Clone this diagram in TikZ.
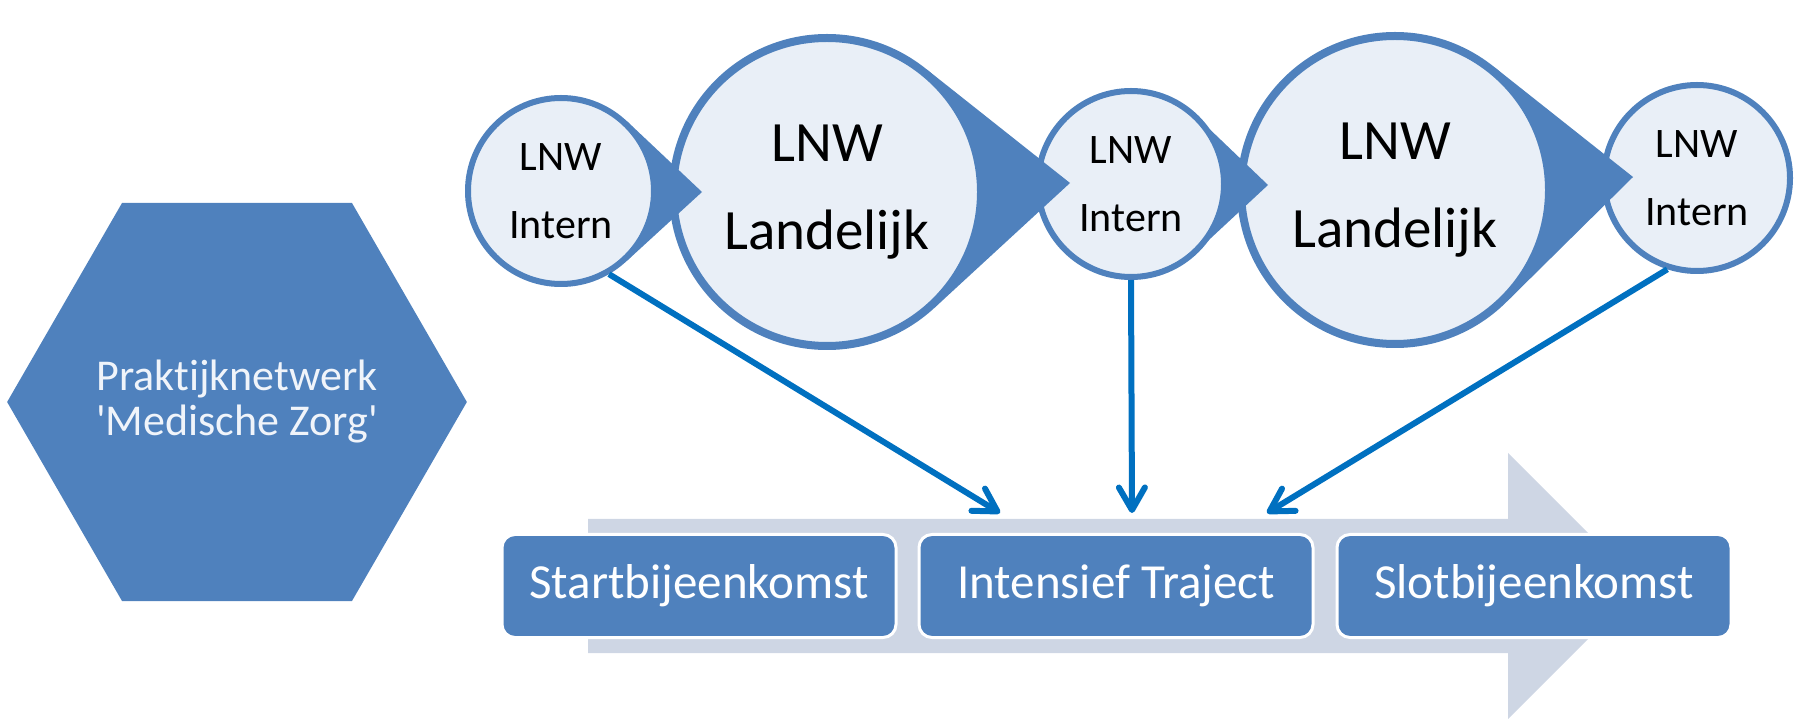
\documentclass[tikz,border=0pt]{standalone}
\usepackage{fontspec}
\setmainfont{Carlito}[Ligatures={NoCommon}]
\usetikzlibrary{arrows.meta,shapes.geometric,calc}
\definecolor{lnwblue}{RGB}{79,129,189}
\definecolor{lnwlight}{RGB}{233,239,247}
\definecolor{lnwline}{RGB}{0,112,192}
\definecolor{lnwgrey}{RGB}{206,214,228}
\definecolor{lnwtext}{RGB}{240,244,250}
\tikzset{%
  tipA/.tip={Straight Barb[angle=60:26pt,round]},
  intern/.style={circle,draw=lnwblue,line width=6pt,fill=lnwlight,minimum size=186pt,
    inner sep=0pt,align=center,font=\fontsize{42}{68}\selectfont},
  landelijk/.style={circle,draw=lnwblue,line width=8pt,fill=lnwlight,minimum size=308pt,
    inner sep=0pt,align=center,font=\fontsize{57}{88}\selectfont},
  stage/.style={rectangle,rounded corners=13pt,draw=white,line width=3pt,fill=lnwblue,
    text=white,minimum width=394pt,minimum height=103pt,font=\fontsize{49}{56}\selectfont},
  pijl/.style={fill=lnwblue},
  link/.style={draw=lnwline,line width=6pt,-tipA}
}

\begin{document}
\begin{tikzpicture}[x=1pt,y=1pt]
\useasboundingbox (0,0) rectangle (1797,718);
\fill[lnwgrey] (588,65) -- (588,199) -- (1508,199) -- (1508,265) -- (1641,132) -- (1508,-1) -- (1508,65) -- cycle;
\node[stage] (start) at (699,132) {Startbijeenkomst};
\node[stage] (traject) at (1116,132) {Intensief Traject};
\node[stage] (slot) at (1534,132) {Slotbijeenkomst};
\node[regular polygon,regular polygon sides=6,fill=lnwblue,minimum size=456pt,inner sep=0pt,
  text=lnwtext,align=center,font=\fontsize{44}{45}\selectfont] (pnw) at (237,316)
  {Praktijknetwerk\\\textquotesingle Medische Zorg\textquotesingle};
\node[intern] (i3) at (1697,540) {LNW\\Intern};
\fill[pijl] ($(1395,528)+(51:158)$) -- (1633,541) -- ($(1395,528)+(-45:158)$) -- cycle;
\node[landelijk] (l2) at (1395,528) {LNW\\Landelijk};
\fill[pijl] ($(1131,534)+(47:94)$) -- (1268,533) -- ($(1131,534)+(-47:94)$) -- cycle;
\node[intern] (i2) at (1131,534) {LNW\\Intern};
\fill[pijl] ($(827,526)+(51:158)$) -- (1070,535) -- ($(827,526)+(-47:158)$) -- cycle;
\node[landelijk] (l1) at (827,526) {LNW\\Landelijk};
\fill[pijl] ($(561,527)+(47:96)$) -- (702,526) -- ($(561,527)+(-47:96)$) -- cycle;
\node[intern] (i1) at (561,527) {LNW\\Intern};
\coordinate (t1) at (1000,205);
\coordinate (t2) at (1132,205);
\coordinate (t3) at (1267,205);
\draw[link] (i1.-60) -- (t1);
\draw[link] (i2.south) -- (t2);
\draw[link] (i3.-108) -- (t3);
\end{tikzpicture}
\end{document}
